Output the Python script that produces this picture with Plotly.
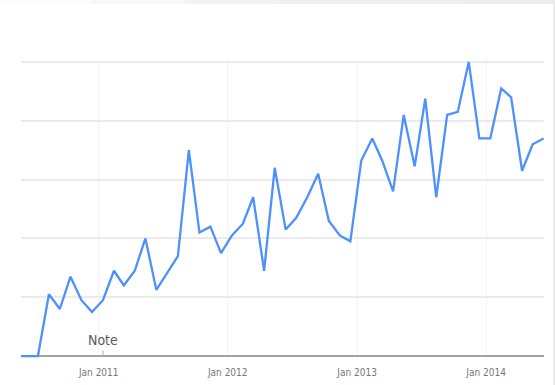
import pandas as pd
import plotly.graph_objects as go

# Monthly search interest (index, peak = 100), May 2010 – Jun 2014
interest = [
    0, 0, 0, 21, 16, 27, 19, 15,                      # 2010 (May–Dec)
    19, 29, 24, 29, 40, 22.5, 28, 34, 70, 42, 44, 35,  # 2011
    41, 45, 54, 29, 64, 43, 47, 54, 62, 46, 41, 39,    # 2012
    66.5, 74, 66.5, 56, 82, 64.5, 87.5, 54, 82, 83, 100, 74,  # 2013
    74, 91, 88, 63, 72, 74,                            # 2014 (Jan–Jun)
]
first_month = "2010-05-01"
months = pd.date_range(first_month, periods=len(interest), freq="MS") + pd.Timedelta(days=12)

year_ticks = ["2011-01-01", "2012-01-01", "2013-01-01", "2014-01-01"]
year_labels = ["Jan 2011", "Jan 2012", "Jan 2013", "Jan 2014"]
y_grid = [0, 20, 40, 60, 80, 100]

note_date = "2011-01-13"
note_text = "Note"

W, H = 555, 385
M = dict(l=21, r=11, t=59, b=26)
plot_w = W - M["l"] - M["r"]
plot_h = H - M["t"] - M["b"]
label_font = "Liberation Sans Narrow, DejaVu Sans Condensed, Liberation Sans"

fig = go.Figure()
fig.add_trace(go.Scatter(
    x=months, y=interest, mode="lines",
    line=dict(color="#4d90fe", width=2.3),
    hoverinfo="skip", showlegend=False,
))

shapes = []
# thin grey strip along the top of the page, fading in from the left
strip_cols = ["#fbfbfb", "#f7f7f7", "#f3f3f3", "#f0f0f0", "#eeeeee", "#ececec"]
n = len(strip_cols)
top_y0 = (H - M["b"] - 4) / plot_h
top_y1 = (H - M["b"]) / plot_h + 0.01
for i, c in enumerate(strip_cols):
    x0 = (W * i / n - M["l"]) / plot_w
    x1 = (W * (i + 1) / n - M["l"]) / plot_w
    shapes.append(dict(type="rect", xref="paper", yref="paper",
                       x0=x0, x1=x1, y0=top_y0, y1=top_y1,
                       fillcolor=c, line_width=0, layer="below"))
# grey strip down the right edge
shapes.append(dict(type="rect", xref="paper", yref="paper",
                   x0=(553 - M["l"]) / plot_w, x1=(W + 2 - M["l"]) / plot_w,
                   y0=-M["b"] / plot_h - 0.01, y1=top_y1,
                   fillcolor="#ebebeb", line_width=0, layer="below"))
# small tick under the note label
shapes.append(dict(type="line", xref="x", yref="y",
                   x0=note_date, x1=note_date, y0=0, y1=1.8,
                   line=dict(color="#aaaaaa", width=1)))

fig.add_annotation(
    x=note_date, y=2.2, xref="x", yref="y", text=note_text,
    showarrow=False, yanchor="bottom", xanchor="center",
    font=dict(family=label_font, size=14, color="#5a5a5a"),
)

fig.update_layout(
    width=W, height=H, margin=M,
    paper_bgcolor="white", plot_bgcolor="white",
    shapes=shapes,
    xaxis=dict(
        type="date",
        range=["2010-05-26", "2014-06-14"],
        tickvals=year_ticks, ticktext=year_labels,
        showgrid=True, gridcolor="#f4f4f4", gridwidth=1,
        zeroline=False, showline=False, ticks="",
        tickfont=dict(family=label_font, size=10, color="#777777"),
        ticklabelstandoff=6,
        automargin=False,
    ),
    yaxis=dict(
        range=[-1, 101],
        tickvals=y_grid, showticklabels=False,
        showgrid=True, gridcolor="#ebebeb", gridwidth=1.5,
        zeroline=True, zerolinecolor="#a3a3a3", zerolinewidth=1.5,
        showline=False, ticks="",
        automargin=False,
    ),
)

fig.write_html("out.html")
